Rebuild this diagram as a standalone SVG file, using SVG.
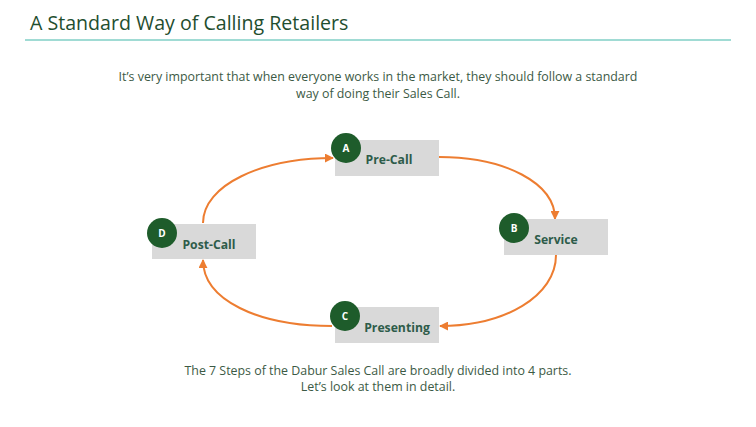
<svg xmlns="http://www.w3.org/2000/svg" width="756" height="427" viewBox="0 0 756 427">
<style>
.t{font-family:"Open Sans","Liberation Sans",sans-serif}
.box{fill:#d9d9d9}
.dot{fill:#1e5c2b}
.lt{font-family:"Open Sans","Liberation Sans",sans-serif;font-size:12.2px;font-weight:bold;fill:#2e5c4a}
.ct{font-family:"Open Sans","Liberation Sans",sans-serif;font-size:10px;font-weight:bold;fill:#ffffff;text-anchor:middle}
.body{font-family:"Open Sans","Liberation Sans",sans-serif;font-size:12.4px;fill:#3c5a45;text-anchor:middle}
.arr{fill:none;stroke:#ed7d31;stroke-width:2}
</style>
<defs>
<marker id="ah" viewBox="0 0 10 10" refX="9" refY="5" markerWidth="4.5" markerHeight="4.5" orient="auto" markerUnits="strokeWidth">
<path d="M0,0 L10,5 L0,10 z" fill="#ed7d31"/>
</marker>
</defs>
<rect width="756" height="427" fill="#ffffff"/>
<text class="t" x="30" y="30" font-size="19.6" fill="#1f4e2f">A Standard Way of Calling Retailers</text>
<line x1="25" y1="40" x2="731" y2="40" stroke="#80cfc6" stroke-width="1.5"/>
<text class="body" x="378" y="81">It’s very important that when everyone works in the market, they should follow a standard</text>
<text class="body" x="378" y="98">way of doing their Sales Call.</text>
<g id="connectors">
<path class="arr" d="M203,223 C203,185 262,158 333,158" marker-end="url(#ah)"/>
<path class="arr" d="M439,157 C505,157 555,183 555,219" marker-end="url(#ah)"/>
<path class="arr" d="M556,255 C556,296 505,326 440,326" marker-end="url(#ah)"/>
<path class="arr" d="M332,326 C258,326 203,300 203,260" marker-end="url(#ah)"/>
</g>
<g id="node-a">
<rect class="box" x="335" y="140" width="104" height="36"/>
<circle class="dot" cx="346" cy="148" r="15"/>
<text class="ct" x="346" y="152">A</text>
<text class="lt" x="389" y="164" text-anchor="middle">Pre-Call</text>
</g>
<g id="node-b">
<rect class="box" x="504" y="219" width="104" height="36"/>
<circle class="dot" cx="514" cy="228" r="15"/>
<text class="ct" x="514" y="232">B</text>
<text class="lt" x="556" y="244" text-anchor="middle">Service</text>
</g>
<g id="node-c">
<rect class="box" x="335" y="307" width="104" height="36"/>
<circle class="dot" cx="345" cy="316" r="15"/>
<text class="ct" x="345" y="320">C</text>
<text class="lt" x="397" y="332" text-anchor="middle">Presenting</text>
</g>
<g id="node-d">
<rect class="box" x="152" y="224" width="104" height="35"/>
<circle class="dot" cx="162" cy="233" r="15"/>
<text class="ct" x="162" y="237">D</text>
<text class="lt" x="209" y="249" text-anchor="middle">Post-Call</text>
</g>
<text class="body" x="378" y="375">The 7 Steps of the Dabur Sales Call are broadly divided into 4 parts.</text>
<text class="body" x="378" y="391">Let’s look at them in detail.</text>
</svg>
